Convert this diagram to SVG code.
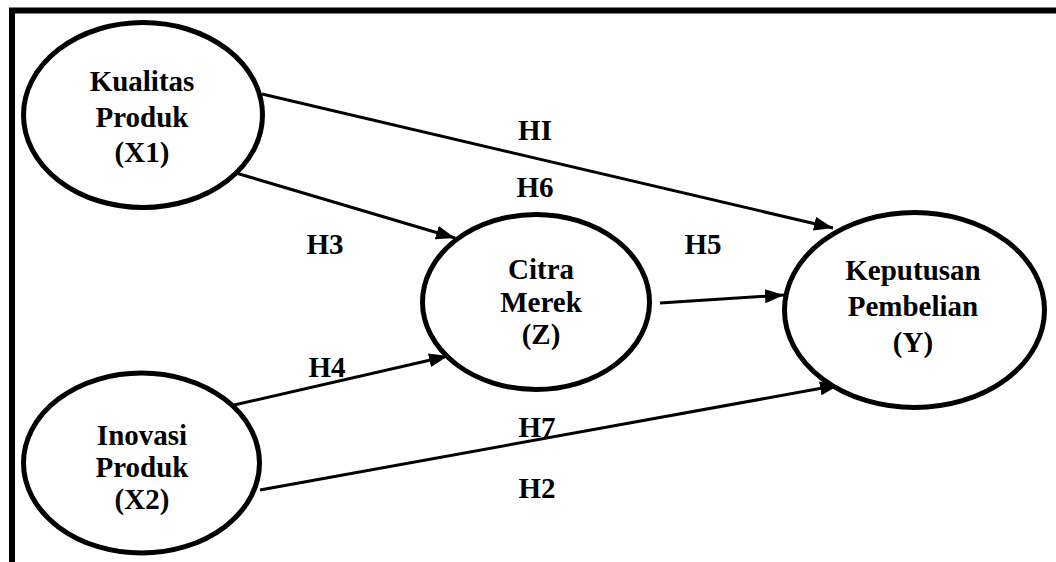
<svg xmlns="http://www.w3.org/2000/svg" width="1056" height="562" viewBox="0 0 1056 562">
<style>
.node ellipse{fill:#fff;stroke:#000;stroke-width:5}
text{font-family:"Liberation Serif","Times New Roman",serif;font-weight:bold;font-size:29px;fill:#000;text-anchor:middle}
.conn line{stroke:#000;stroke-width:3;marker-end:url(#arr)}
</style>
<defs>
<marker id="arr" markerUnits="userSpaceOnUse" markerWidth="19" markerHeight="14" refX="19" refY="7" orient="auto">
<path d="M0,0 L19,7 L0,14 z" fill="#000"/>
</marker>
</defs>
<rect width="1056" height="562" fill="#fff"/>
<path d="M12,562 V10.5 H1056" fill="none" stroke="#000" stroke-width="6"/>
<g class="conn">
<line x1="262" y1="94" x2="833" y2="228"/>
<line x1="236" y1="173" x2="455" y2="238"/>
<line x1="660" y1="303" x2="784" y2="295"/>
<line x1="234" y1="405" x2="448" y2="356"/>
<line x1="260" y1="490" x2="839" y2="385"/>
</g>
<g id="x1" class="node">
<ellipse cx="143" cy="115" rx="119.5" ry="92.5"/>
<text x="142" y="91">Kualitas</text>
<text x="142" y="127">Produk</text>
<text x="142" y="162">(X1)</text>
</g>
<g id="x2" class="node">
<ellipse cx="141.5" cy="463" rx="118" ry="90"/>
<text x="142" y="445">Inovasi</text>
<text x="142" y="477">Produk</text>
<text x="142" y="509">(X2)</text>
</g>
<g id="z" class="node">
<ellipse cx="536" cy="302" rx="113.5" ry="87.5"/>
<text x="541" y="279">Citra</text>
<text x="541" y="312">Merek</text>
<text x="541" y="344">(Z)</text>
</g>
<g id="y" class="node">
<ellipse cx="914.5" cy="310" rx="130" ry="97.5"/>
<text x="913" y="280">Keputusan</text>
<text x="913" y="316">Pembelian</text>
<text x="913" y="352">(Y)</text>
</g>
<g id="labels">
<text x="535" y="140">HI</text>
<text x="535" y="197">H6</text>
<text x="325" y="254">H3</text>
<text x="703" y="254">H5</text>
<text x="327" y="377">H4</text>
<text x="537" y="437">H7</text>
<text x="537" y="498">H2</text>
</g>
</svg>
